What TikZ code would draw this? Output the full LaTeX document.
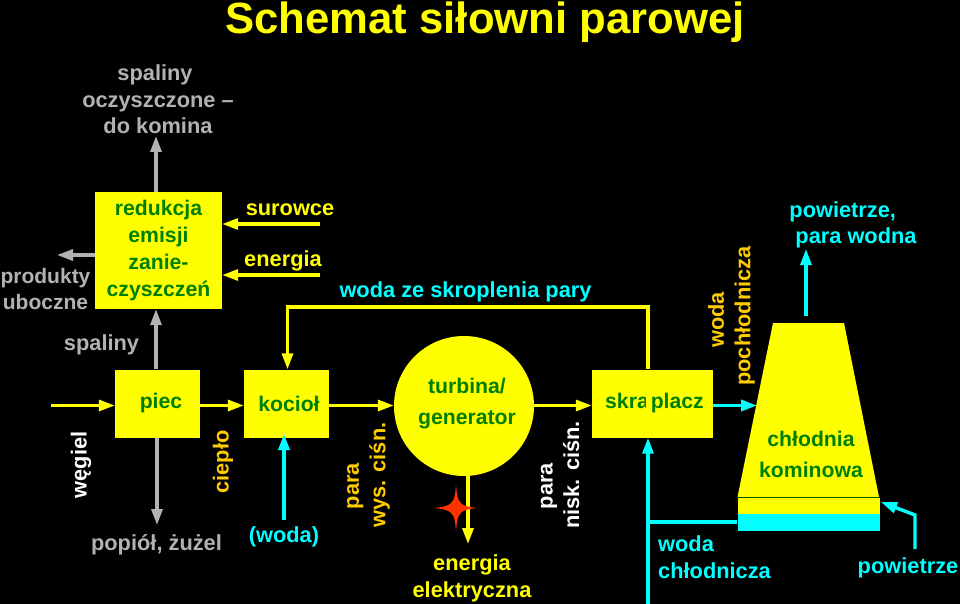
\documentclass[tikz,border=0pt]{standalone}
\usepackage{fontspec}
\setmainfont{Liberation Sans}
\usetikzlibrary{arrows.meta}
\definecolor{ye}{HTML}{FFFF00}
\definecolor{gr}{HTML}{B2B2B2}
\definecolor{cy}{HTML}{00FFFF}
\definecolor{gn}{HTML}{008000}
\definecolor{og}{HTML}{FFCC00}
\definecolor{st}{HTML}{FF3300}
\tikzset{x=1pt,y=-1pt,
 boxn/.style={fill=ye,draw=none,inner sep=0pt,font=\fontsize{21.2}{27}\selectfont\bfseries,text=gn,align=center},
 lab/.style={inner sep=0pt,font=\fontsize{21.8}{26.5}\selectfont\bfseries,align=center},
 tip/.style={-{Triangle[length=16pt,width=11pt]}},
 ya/.style={draw=ye,line width=3.2pt,tip},
 ga/.style={draw=gr,line width=3.2pt,tip},
 ca/.style={draw=cy,line width=3.4pt,tip},
 cl/.style={draw=cy,line width=3.4pt}}
\begin{document}
\begin{tikzpicture}
\useasboundingbox[fill=black] (0,0) rectangle (960,604);
\node[lab,text=ye,font=\fontsize{43.7}{50}\selectfont\bfseries] (title) at (485,22.5) {Schemat siłowni parowej};
% boxes
\node[boxn,minimum width=127,minimum height=117] (red) at (158.5,250.5) {redukcja\\emisji\\zanie-\\czyszczeń};
\node[boxn,minimum width=85,minimum height=68] (piec) at (157.5,403.5) {\hspace*{7pt}piec};
\node[boxn,minimum width=85,minimum height=68] (koc) at (286.5,403.5) {\hspace*{5pt}kocioł};
\node[boxn,circle,minimum size=140] (tur) at (464,406) {};
\node[lab,text=gn,font=\fontsize{21.2}{31}\selectfont\bfseries] (turl) at (467,403.5) {turbina/\\generator};
\node[boxn,minimum width=121,minimum height=68] (skr) at (652.5,403.5) {\hspace*{4pt}skra\hspace*{2pt}placz};
\fill[ye] (646,372) rectangle (650.5,424);
\path[fill=ye] (773,323) -- (844,323) -- (879,497) -- (737.5,497) -- cycle;
\node[lab,text=gn,font=\fontsize{21.2}{31}\selectfont\bfseries] (chll) at (811,454) {chłodnia\\kominowa};
\node[fill=ye,draw=none,inner sep=0pt,minimum width=142,minimum height=17] (base) at (808.5,505.5) {};
\node[fill=cy,draw=none,inner sep=0pt,minimum width=142,minimum height=17] (wat) at (808.5,522) {};
\draw[draw=gn!70!black,line width=.6pt] (737.5,497) -- (879.5,497);
% labels
\node[lab,text=gr] (l1) at (158,99.5) {\hspace*{-6pt}spaliny\\oczyszczone --\\do komina};
\node[lab,text=gr,font=\fontsize{21}{25.5}\selectfont\bfseries] (l2) at (45.5,289) {produkty\\uboczne};
\node[lab,text=gr] (l3) at (101.5,345) {spaliny};
\node[lab,text=gr] (l4) at (156.5,545) {popiół, żużel};
\node[lab,text=cy] (l5) at (284,537) {(woda)};
\node[lab,text=ye] (l6) at (290,210) {surowce};
\node[lab,text=ye] (l7) at (283,261) {energia};
\node[lab,text=cy] (l8) at (465.5,292) {woda ze skroplenia pary};
\node[lab,text=white,rotate=90] (l9) at (81,465) {węgiel};
\node[lab,text=og,rotate=90] (l10) at (223,462) {ciepło};
\node[lab,text=og,rotate=90] (l11) at (368.5,475) {para\hspace*{22pt}\\wys. ciśn.};
\node[lab,text=white,rotate=90] (l12) at (560,475) {para\hspace*{22pt}\\nisk. ciśn.};
\node[lab,text=og,rotate=90] (l13) at (731.5,316) {woda\hspace*{8pt}\\pochłodnicza};
\node[lab,text=ye] (l14) at (472,578.5) {energia\\elektryczna};
\node[lab,text=cy,align=left] (l15) at (714.5,557) {woda\\chłodnicza};
\node[lab,text=cy] (l16) at (908,568) {powietrze};
\node[lab,text=cy,align=left] (l17) at (853,225) {powietrze,\\\hspace*{6pt}para wodna};
% connectors
\coordinate (row) at (0,405.5);
\coordinate (c1) at (51,405.5);
\coordinate (c2) at (156,136);
\coordinate (c3) at (157,525);
\coordinate (c4) at (57,255);
\coordinate (c5) at (320,224);
\coordinate (c6) at (320,275);
\coordinate (c7) at (648,307);
\coordinate (c8) at (287.5,307);
\coordinate (c9) at (284,520);
\coordinate (c9t) at (284,434);
\coordinate (c10) at (468,544);
\coordinate (c11) at (648,604);
\coordinate (c12) at (648,522);
\coordinate (c13) at (806,316);
\coordinate (c14) at (806,249);
\coordinate (c15) at (915,549);
\coordinate (c16) at (915,515);
\coordinate (c17) at (881,502);
\coordinate (c18) at (757,405.5);
\draw[ga] (red.north -| c2) -- (c2);
\draw[ga] (red.west |- c4) -- (c4);
\draw[ga] (piec.north -| c2) -- (red.south -| c2);
\draw[ga] (piec.south -| c3) -- (c3);
\draw[ya] (c1) -- (piec.west |- row);
\draw[ya] (piec.east |- row) -- (koc.west |- row);
\draw[ya] (koc.east |- row) -- (tur.west |- row);
\draw[ya] (tur.east |- row) -- (skr.west |- row);
\draw[ya] (c5) -- (red.east |- c5);
\draw[ya] (c6) -- (red.east |- c6);
\draw[ya] (skr.north -| c7) -- (c7) -- (c8) -- (koc.north -| c8);
\draw[ca] (c9) -- (c9t);
\draw[ya] (tur.south -| c10) -- (c10);
\draw[ca] (c11) -- (skr.south -| c11);
\draw[cl] (c12) -- (wat.west |- c12);
\draw[ca] (skr.east |- row) -- (c18);
\draw[ca] (c13) -- (c14);
\draw[ca,line join=miter] (c15) -- (c16) -- (c17);
% star
\fill[st] (456,485) .. controls (457.5,503) and (459,506.5) .. (478,508) .. controls (459,509.5) and (457.5,513) .. (456,531) .. controls (454.5,513) and (453,509.5) .. (433,508) .. controls (453,506.5) and (454.5,503) .. (456,485) -- cycle;
\end{tikzpicture}
\end{document}
